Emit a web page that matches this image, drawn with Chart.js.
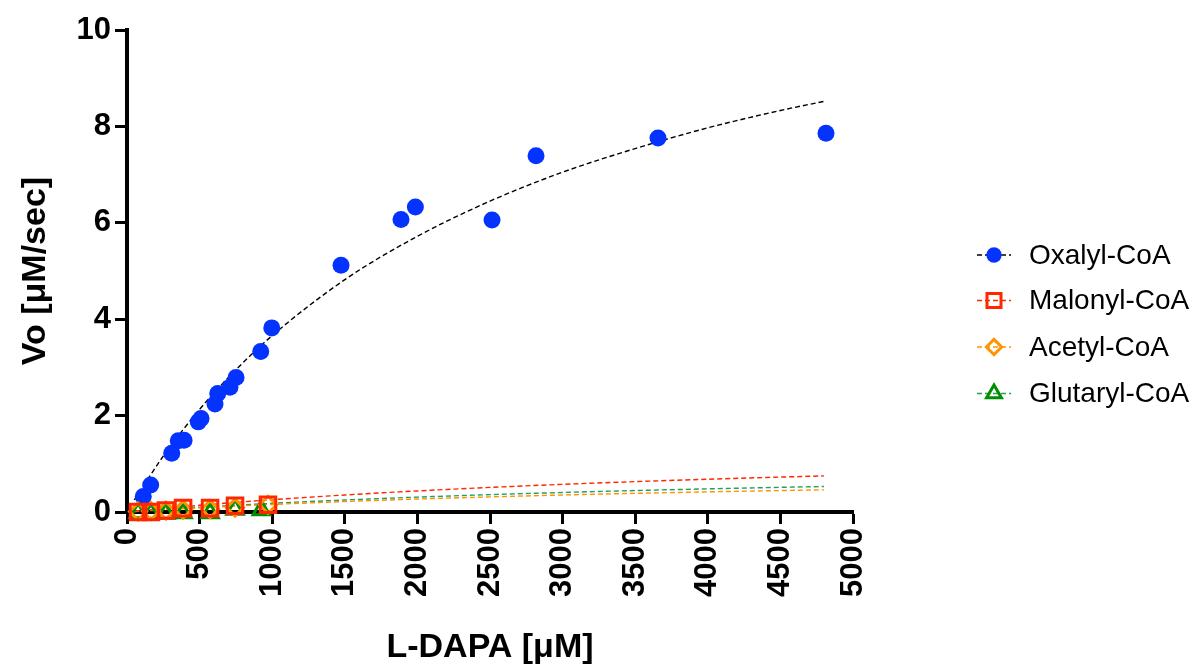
<!DOCTYPE html>
<html>
<head>
<meta charset="utf-8">
<script src="https://cdn.jsdelivr.net/npm/chart.js@4.4.1/dist/chart.umd.min.js"></script>
<style>
  html, body { margin: 0; padding: 0; background: #fff; }
  #wrap { width: 1196px; height: 671px; }
</style>
</head>
<body>
<div id="wrap"><canvas id="kineticsChart" width="1196" height="671"></canvas></div>
<script>
// measured points (L-DAPA uM vs Vo uM/sec)
const oxalylX = [112, 163, 308, 353, 393, 491, 510, 606, 625, 709, 751, 921, 997, 1474, 1887, 1986, 2514, 2817, 3657, 4814];
const oxalylY = [0.32, 0.56, 1.22, 1.48, 1.49, 1.87, 1.94, 2.24, 2.46, 2.59, 2.79, 3.33, 3.82, 5.12, 6.07, 6.33, 6.06, 7.39, 7.76, 7.86];

const malonylX = [76, 165, 268, 386, 572, 744, 971];
const malonylY = [0.0, 0.0, 0.03, 0.08, 0.08, 0.13, 0.15];

const acetylX = [76, 165, 268, 386, 572, 744, 971];
const acetylY = [0.01, 0.02, 0.03, 0.05, 0.06, 0.09, 0.15];

const glutarylX = [76, 165, 268, 386, 572, 744, 925];
const glutarylY = [-0.02, -0.03, -0.03, -0.02, -0.02, 0.05, 0.04];

// fitted curves
const fitX = [50, 250, 500, 750, 1000, 1500, 2000, 2500, 3000, 3500, 4000, 4500, 4800];
const oxalylFit = [0.25, 1.16, 2.13, 2.95, 3.66, 4.82, 5.72, 6.45, 7.05, 7.54, 7.97, 8.33, 8.52];
const malonylFit = [0.015, 0.073, 0.139, 0.2, 0.255, 0.353, 0.437, 0.51, 0.574, 0.63, 0.68, 0.725, 0.749];
const acetylFit = [0.009, 0.045, 0.085, 0.123, 0.157, 0.217, 0.269, 0.313, 0.353, 0.387, 0.418, 0.445, 0.46];
const glutarylFit = [0.011, 0.051, 0.098, 0.141, 0.18, 0.249, 0.309, 0.36, 0.405, 0.445, 0.48, 0.512, 0.529];

const seriesNames = ["Oxalyl-CoA", "Malonyl-CoA", "Acetyl-CoA", "Glutaryl-CoA"];
const xTicks = [0, 500, 1000, 1500, 2000, 2500, 3000, 3500, 4000, 4500, 5000];
const yTicks = [0, 2, 4, 6, 8, 10];

const FONT = 'Arial, "Liberation Sans", Helvetica, sans-serif';

const styles = [
  { color: "#0433ff", line: "#000000", point: "circle", radius: 8.5, fill: "#0433ff", bw: 0 },
  { color: "#ff2600", line: "#ff2600", point: "rect", radius: 11, fill: "rgba(0,0,0,0)", bw: 3 },
  { color: "#ff9300", line: "#ff9300", point: "rectRot", radius: 8.5, fill: "rgba(0,0,0,0)", bw: 3 },
  { color: "#008f00", line: "#23a05c", point: "triangle", radius: 9.5, fill: "rgba(0,0,0,0)", bw: 3 }
];

function toPoints(xs, ys) {
  return xs.map((x, i) => ({ x: x, y: ys[i] }));
}

function fitDataset(values, style) {
  return {
    data: toPoints(fitX, values),
    showLine: true,
    borderColor: style.line,
    borderWidth: 1.4,
    borderDash: [5, 3],
    pointRadius: 0,
    cubicInterpolationMode: "monotone",
    fill: false,
    clip: false,
    order: 10
  };
}

function pointDataset(xs, ys, style, order) {
  return {
    data: toPoints(xs, ys),
    showLine: false,
    pointStyle: style.point,
    pointRadius: style.radius,
    pointBackgroundColor: style.fill,
    pointBorderColor: style.color,
    pointBorderWidth: style.bw,
    clip: false,
    order: order
  };
}

function drawMarker(ctx, style, x, y) {
  const r = style.radius;
  ctx.save();
  ctx.lineWidth = style.bw;
  ctx.strokeStyle = style.color;
  ctx.fillStyle = style.fill;
  ctx.beginPath();
  if (style.point === "circle") {
    ctx.arc(x, y, r, 0, Math.PI * 2);
    ctx.fill();
  } else if (style.point === "rect") {
    const s = r * Math.SQRT1_2;
    ctx.rect(x - s, y - s, s * 2, s * 2);
    ctx.stroke();
  } else if (style.point === "rectRot") {
    ctx.moveTo(x, y - r);
    ctx.lineTo(x + r, y);
    ctx.lineTo(x, y + r);
    ctx.lineTo(x - r, y);
    ctx.closePath();
    ctx.stroke();
  } else {
    ctx.moveTo(x, y - r);
    ctx.lineTo(x + r * 0.866, y + r * 0.5);
    ctx.lineTo(x - r * 0.866, y + r * 0.5);
    ctx.closePath();
    ctx.stroke();
  }
  ctx.restore();
}

// legend with dashed line + marker, like the original graph
const sideLegend = {
  id: "sideLegend",
  afterDraw(chart) {
    const ctx = chart.ctx;
    const rows = [255, 300.5, 347, 393.5];
    seriesNames.forEach((name, i) => {
      const y = rows[i];
      const st = styles[i];
      ctx.save();
      ctx.strokeStyle = st.line;
      ctx.lineWidth = 1.4;
      ctx.setLineDash([5, 3]);
      ctx.beginPath();
      ctx.moveTo(977, y);
      ctx.lineTo(1011, y);
      ctx.stroke();
      ctx.restore();
      drawMarker(ctx, Object.assign({}, st, { radius: st.radius * 0.9 }), 994, y);
      ctx.save();
      ctx.fillStyle = "#000";
      ctx.font = "28px " + FONT;
      ctx.textBaseline = "middle";
      ctx.fillText(name, 1029, y + 1);
      ctx.restore();
    });
  }
};

function renderChart() {
  const canvas = document.getElementById("kineticsChart");
  if (!canvas) {
    console.error("Missing #kineticsChart");
    return;
  }

  const datasets = [
    pointDataset(malonylX, malonylY, styles[1], 1),
    pointDataset(acetylX, acetylY, styles[2], 2),
    pointDataset(glutarylX, glutarylY, styles[3], 3),
    pointDataset(oxalylX, oxalylY, styles[0], 4),
    fitDataset(oxalylFit, styles[0]),
    fitDataset(malonylFit, styles[1]),
    fitDataset(acetylFit, styles[2]),
    fitDataset(glutarylFit, styles[3])
  ];

  new Chart(canvas.getContext("2d"), {
    type: "scatter",
    data: { datasets },
    options: {
      responsive: false,
      animation: false,
      events: [],
      layout: { padding: { left: 0, right: 343, top: 30, bottom: 0 } },
      plugins: {
        legend: { display: false },
        tooltip: { enabled: false }
      },
      scales: {
        x: {
          type: "linear",
          min: 0,
          max: 5000,
          afterBuildTicks: (scale) => { scale.ticks = xTicks.map(v => ({ value: v })); },
          afterFit: (scale) => { scale.height = 159; },
          border: { display: true, color: "#000", width: 4 },
          grid: { drawOnChartArea: false, drawTicks: true, tickLength: 12, tickWidth: 3, tickColor: "#000" },
          ticks: {
            autoSkip: false,
            minRotation: 90,
            maxRotation: 90,
            padding: 4,
            color: "#000",
            font: { family: FONT, size: 31, weight: "bold" },
            callback: (v) => String(v)
          },
          title: {
            display: true,
            text: "L-DAPA [μM]",
            color: "#000",
            font: { family: FONT, size: 34, weight: "bold" },
            padding: { top: 0, bottom: 3 }
          }
        },
        y: {
          type: "linear",
          min: 0,
          max: 10,
          afterBuildTicks: (scale) => { scale.ticks = yTicks.map(v => ({ value: v })); },
          afterFit: (scale) => { scale.width = 127; },
          border: { display: true, color: "#000", width: 4 },
          grid: { drawOnChartArea: false, drawTicks: true, tickLength: 12, tickWidth: 3, tickColor: "#000" },
          ticks: {
            padding: 4,
            color: "#000",
            font: { family: FONT, size: 31, weight: "bold" }
          },
          title: {
            display: true,
            text: "Vo [μM/sec]",
            color: "#000",
            font: { family: FONT, size: 34, weight: "bold" },
            padding: { top: 15, bottom: 0 }
          }
        }
      }
    },
    plugins: [sideLegend]
  });
}

renderChart();
</script>
</body>
</html>
